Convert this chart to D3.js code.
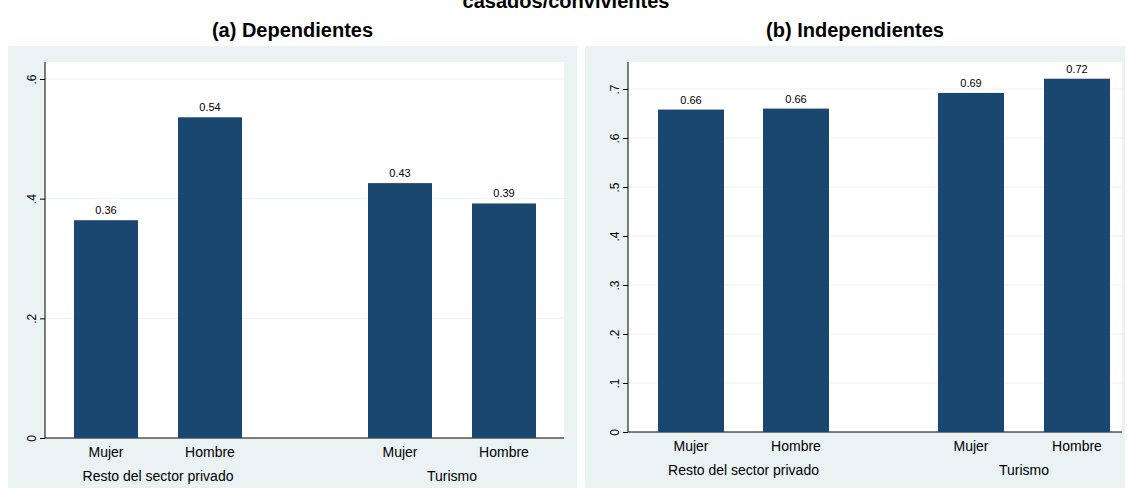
<!DOCTYPE html>
<html><head><meta charset="utf-8">
<script src="https://cdn.jsdelivr.net/npm/d3@7"></script>
<style>body{margin:0;background:#fff;font-family:"Liberation Sans",Arial,sans-serif;}</style>
</head><body><div id="chart"></div>
<script>
var groups = ['Resto del sector privado', 'Turismo'];
var sexes = ['Mujer', 'Hombre'];
var dependientes = [0.364, 0.536, 0.426, 0.392];
var independientes = [0.658, 0.660, 0.692, 0.721];
var ticksA = [0, 0.2, 0.4, 0.6];
var ticksB = [0, 0.1, 0.2, 0.3, 0.4, 0.5, 0.6, 0.7];
var labelsA = ['0.36', '0.54', '0.43', '0.39'];
var labelsB = ['0.66', '0.66', '0.69', '0.72'];

var svg = d3.select('#chart').append('svg').attr('width', 1131).attr('height', 493);

svg.append('text').attr('x', 566).attr('y', 8).attr('text-anchor', 'middle')
  .attr('font-size', 20).attr('font-weight', 'bold').text('casados/convivientes');

function fmt(d) { return d === 0 ? '0' : String(d).replace(/^0/, ''); }

function panel(o) {
  var g = svg.append('g');
  g.append('text').attr('x', (o.bx0 + o.bx1) / 2).attr('y', 37).attr('text-anchor', 'middle')
    .attr('font-size', 20).attr('font-weight', 'bold').text(o.title);
  g.append('rect').attr('x', o.bx0).attr('y', 46).attr('width', o.bx1 - o.bx0).attr('height', 442).attr('fill', '#eaf2f3');
  g.append('rect').attr('x', o.px0).attr('y', 62).attr('width', o.px1 - o.px0).attr('height', o.y0 - 62).attr('fill', '#fff');

  var y = d3.scaleLinear().domain([0, o.tmax]).range([o.y0, o.ytop]);
  var x = d3.scaleLinear().domain([0, 1]).range([o.px0, o.px1]);

  g.selectAll('.grid').data(o.ticks.slice(1)).enter().append('line')
    .attr('x1', o.px0).attr('x2', o.px1).attr('y1', y).attr('y2', y)
    .attr('stroke', '#eaf2f3').attr('stroke-width', 1);

  var ax = g.append('g').attr('transform', 'translate(' + o.px0 + ',0)')
    .call(d3.axisLeft(y).tickValues(o.ticks).tickFormat(fmt).tickSize(5).tickPadding(6));
  ax.select('.domain').attr('stroke', '#000').attr('d', 'M0,' + o.y0 + 'V62');
  ax.selectAll('text').attr('font-size', 12).attr('font-family', 'Liberation Sans, Arial')
    .attr('text-anchor', 'middle').attr('x', 0).attr('y', 0).attr('dy', '0.35em')
    .attr('transform', 'translate(-13,0) rotate(-90)');
  g.append('line').attr('x1', o.px0).attr('x2', o.px1).attr('y1', o.y0).attr('y2', o.y0).attr('stroke', '#000');

  var bw = o.bw;
  g.selectAll('.bar').data(o.values).enter().append('rect')
    .attr('x', function(d, i) { return x(o.pos[i]) - bw / 2; })
    .attr('y', function(d) { return y(d); })
    .attr('width', bw).attr('height', function(d) { return o.y0 - y(d); })
    .attr('fill', '#1a476f');
  g.selectAll('.vl').data(o.values).enter().append('text')
    .attr('x', function(d, i) { return x(o.pos[i]); })
    .attr('y', function(d) { return y(d) - 6; })
    .attr('text-anchor', 'middle').attr('font-size', 11).text(function(d, i) { return o.labels[i]; });
  g.selectAll('.sx').data(o.values).enter().append('text')
    .attr('x', function(d, i) { return x(o.pos[i]); })
    .attr('y', o.y0 + 19).attr('text-anchor', 'middle').attr('font-size', 14)
    .text(function(d, i) { return sexes[i % 2]; });
  g.selectAll('.gp').data(groups).enter().append('text')
    .attr('x', function(d, i) { return x((o.pos[i * 2] + o.pos[i * 2 + 1]) / 2); })
    .attr('y', o.y0 + 43).attr('text-anchor', 'middle').attr('font-size', 14).text(function(d) { return d; });
}

panel({title: '(a) Dependientes', bx0: 8, bx1: 577, px0: 45, px1: 564, y0: 438, tmax: 0.6, ytop: 79,
  ticks: ticksA, values: dependientes, labels: labelsA, bw: 64,
  pos: [(106 - 45) / 519, (210 - 45) / 519, (400 - 45) / 519, (504 - 45) / 519]});
panel({title: '(b) Independientes', bx0: 585, bx1: 1125, px0: 628, px1: 1122, y0: 432, tmax: 0.7, ytop: 89,
  ticks: ticksB, values: independientes, labels: labelsB, bw: 66,
  pos: [(691 - 628) / 494, (796 - 628) / 494, (971 - 628) / 494, (1077 - 628) / 494]});
</script></body></html>
